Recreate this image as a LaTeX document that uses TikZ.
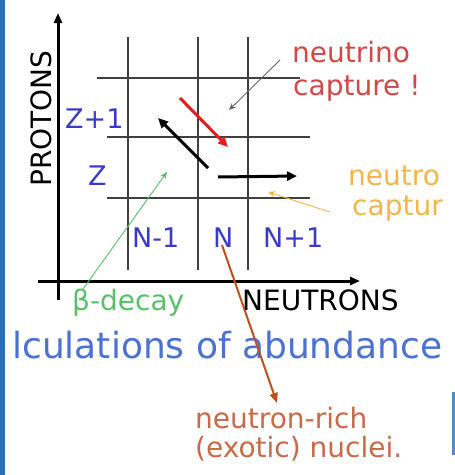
\documentclass[tikz,border=0pt]{standalone}
\usepackage{fontspec}
\setmainfont{DejaVu Sans}
\usepackage{xcolor}
\usepackage{tikz}
\usetikzlibrary{arrows.meta,positioning,calc}
\definecolor{ncBlue}{HTML}{3A3AC8}
\definecolor{ncTitle}{HTML}{4A72D2}
\definecolor{ncRed}{HTML}{D04848}
\definecolor{ncArrowRed}{HTML}{E02020}
\definecolor{ncOrange}{HTML}{F2B648}
\definecolor{ncBrown}{HTML}{C86A48}
\definecolor{ncArrowBrown}{HTML}{C0501E}
\definecolor{ncGreen}{HTML}{58C068}
\definecolor{ncGrid}{HTML}{404040}
\definecolor{ncFrame}{HTML}{2F6DB5}
\tikzset{
  chart text/.style={inner sep=0pt,anchor=base west,font=\fontsize{28}{33}\selectfont},
  cell label/.style={chart text,text=ncBlue,font=\fontsize{27}{32}\selectfont},
  grid line/.style={draw=ncGrid,line width=2.2pt},
  axis arrow/.style={-{Triangle[length=10pt,width=8pt]},line width=3pt,draw=black},
  flow arrow/.style={-{Triangle[length=10pt,width=9pt]},line width=3pt},
  pointer/.style={-{Stealth[length=7pt,width=6pt]},line width=0.9pt}
}

\begin{document}
\begin{tikzpicture}[x=1pt,y=-1pt]
\useasboundingbox (0,0) rectangle (455,475);
\fill[ncFrame] (0,0) rectangle (5,475);
\fill[ncFrame!80] (452,392) rectangle (455,455);
% axes
\coordinate (pfoot) at (58,300);
\coordinate (ptop) at (58,13);
\coordinate (nleft) at (38,281);
\coordinate (nend) at (360,281);
\draw[axis arrow] (pfoot) -- (ptop);
\draw[axis arrow] (nleft) -- (nend);
% grid of nuclei
\foreach \x in {128,198,248} \draw[grid line] (\x,37) -- (\x,270);
\draw[grid line] (97,78) -- (300,78);
\draw[grid line] (107,137) -- (310,137);
\draw[grid line] (107,198) -- (310,198);
% labels
\node[chart text,rotate=90] (protons) at (52,187) {PROTONS};
\node[chart text] (neutrons) at (242,310) {NEUTRONS};
\node[cell label] (zup) at (65,128) {Z+1};
\node[cell label] (zrow) at (88,185) {Z};
\node[cell label] (nlow) at (132,247) {N-1};
\node[cell label] (nmid) at (213,247) {N};
\node[cell label] (nhigh) at (263,247) {N+1};
\node[chart text,text=ncRed] (nucap) at (292,62) {neutrino};
\node[chart text,text=ncRed] (nucapb) at (293,95) {capture !};
\node[chart text,text=ncOrange] (ncap) at (348,185) {neutro};
\node[chart text,text=ncOrange] (ncapb) at (352,215) {captur};
\node[chart text,text=ncGreen] (bdecay) at (72,310) {β-decay};
\node[chart text,text=ncTitle,font=\fontsize{36}{42}\selectfont] (calc) at (12,358) {lculations of abundance};
\node[chart text,text=ncBrown] (nrich) at (195,428) {neutron-rich};
\node[chart text,text=ncBrown] (nricb) at (195,457) {(exotic) nuclei.};
% processes
\coordinate (redA) at (180,98);
\coordinate (redB) at (228,147);
\coordinate (betaA) at (208,168);
\coordinate (betaB) at (158,118);
\coordinate (capA) at (218,177);
\coordinate (capB) at (297,176);
\coordinate (nuTail) at (280,60);
\coordinate (nuTip) at (229,110);
\coordinate (bdTail) at (83,289);
\coordinate (bdTip) at (167,172);
\coordinate (ncTail) at (330,212);
\coordinate (ncTip) at (268,192);
\coordinate (nrTail) at (222,245);
\coordinate (nrTip) at (277,403);
\draw[flow arrow,draw=ncArrowRed] (redA) -- (redB);
\draw[flow arrow,draw=black] (betaA) -- (betaB);
\draw[flow arrow,draw=black] (capA) -- (capB);
\draw[pointer,draw=gray!80!black] (nuTail) -- (nuTip);
\draw[pointer,draw=ncGreen] (bdTail) -- (bdTip);
\draw[pointer,draw=ncOrange] (ncTail) -- (ncTip);
\draw[-{Triangle[length=10pt,width=8pt]},line width=2pt,draw=ncArrowBrown] (nrTail) -- (nrTip);
\end{tikzpicture}
\end{document}
